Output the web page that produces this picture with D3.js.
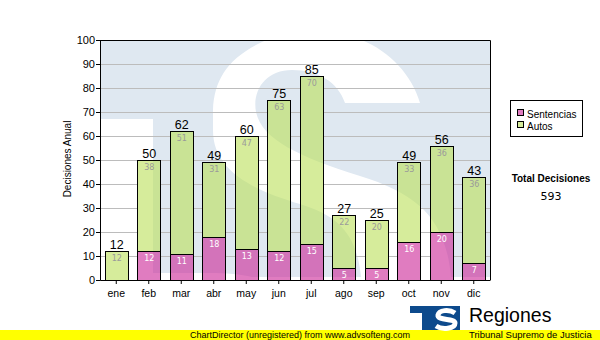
<!DOCTYPE html>
<html>
<head>
<meta charset="utf-8">
<script src="https://cdn.jsdelivr.net/npm/d3@7"></script>
<style>
  body { margin: 0; background: #fff; }
  svg { display: block; }
</style>
</head>
<body>
<svg id="chart" width="600" height="340"></svg>
<script>
// Monthly decisions, split by type
const months = ["ene", "feb", "mar", "abr", "may", "jun", "jul", "ago", "sep", "oct", "nov", "dic"];
const sentencias = [0, 12, 11, 18, 13, 12, 15, 5, 5, 16, 20, 7];
const autos = [12, 38, 51, 31, 47, 63, 70, 22, 20, 33, 36, 36];
const seriesNames = ["Sentencias", "Autos"];
const yTicks = [0, 10, 20, 30, 40, 50, 60, 70, 80, 90, 100];
const yTitle = "Decisiones Anual";
const totalTitle = "Total Decisiones";
const footerText = "ChartDirector (unregistered) from www.advsofteng.com";
const brandName = "Regiones";
const brandSub = "Tribunal Supremo de Justicia";

const svg = d3.select("#chart");
const W = 600, H = 340;
const plot = { left: 100, top: 40, right: 490, bottom: 280 };

const fills = { Sentencias: "rgba(203,37,150,0.6)", Autos: "rgba(187,223,88,0.6)" };
const swatch = { Sentencias: "#e07cc0", Autos: "#d6ec9b" };
const innerLabel = { Sentencias: "#ffffff", Autos: "#9a9a9a" };
const backdropBlue = "#dfe8f1";
const sansA = "'Liberation Sans', Arial, sans-serif";
const sansV = "'DejaVu Sans', Verdana, sans-serif";

const x = d3.scaleBand().domain(months)
  .range([plot.left, plot.right]).paddingInner(0.28).paddingOuter(0.14);
const y = d3.scaleLinear().domain([0, 100]).range([plot.bottom, plot.top]);

const rows = months.map((m, i) => ({ month: m, Sentencias: sentencias[i], Autos: autos[i] }));
const stacked = d3.stack().keys(seriesNames)(rows);
const totals = rows.map(r => r.Sentencias + r.Autos);

const snap = v => Math.round(v) + 0.5;

svg.append("rect").attr("width", W).attr("height", H).attr("fill", "#fff");

// clip paths: the plot box and the union of the stacked bars
const defs = svg.append("defs");
defs.append("clipPath").attr("id", "plotClip").append("rect")
  .attr("x", plot.left).attr("y", plot.top)
  .attr("width", plot.right - plot.left).attr("height", plot.bottom - plot.top);
defs.append("clipPath").attr("id", "barClip").selectAll("rect")
  .data(rows).join("rect")
  .attr("x", d => snap(x(d.month)))
  .attr("y", (d, i) => snap(y(totals[i])))
  .attr("width", Math.round(x.bandwidth()))
  .attr("height", (d, i) => Math.round(y(0)) - Math.round(y(totals[i])));

// faded "TS" emblem behind the plot
function drawBackdrop(g) {
  const L = plot.left, T = plot.top, R = plot.right, B = plot.bottom;
  g.append("rect").attr("x", L).attr("y", T).attr("width", R - L).attr("height", B - T).attr("fill", "#fff");
  g.append("path").attr("fill", backdropBlue)
    .attr("d", `M${L},${T}H${R}V${B - 3}H${L + 53}V${T + 79}H${L}Z`);
  g.append("path").attr("fill", "#fff").attr("d",
    "M420,103 L345,103 C338,82 318,70 292,70 C266,70 252,90 256,112" +
    " C262,140 300,157 360,176 C425,196 452,225 452,300 L362,300" +
    " C362,240 345,218 300,204 C250,189 213,170 213,130 L213,110" +
    " C214,80 228,58 262,42 C290,28 335,28 362,40 C390,52 412,75 420,103 Z");
  g.append("path").attr("fill", "#fff")
    .attr("d", "M150,273 L215,273 C250,274 270,278 280,300 L150,300 Z");
}

const plotG = svg.append("g").attr("clip-path", "url(#plotClip)");
drawBackdrop(plotG.append("g"));

// horizontal grid
plotG.append("g").selectAll("line")
  .data(yTicks.filter(v => v > 0 && v < 100)).join("line")
  .attr("x1", plot.left).attr("x2", plot.right)
  .attr("y1", d => snap(y(d))).attr("y2", d => snap(y(d)))
  .attr("stroke", "#bcbcbc").attr("stroke-width", 1);

// backdrop again inside the bars so the grid does not show through them
drawBackdrop(plotG.append("g").attr("clip-path", "url(#barClip)"));

// stacked bars
const layers = svg.append("g").selectAll("g").data(stacked).join("g");
layers.selectAll("rect")
  .data(s => s.filter(d => d[1] - d[0] > 0).map(d => ({ key: s.key, d })))
  .join("rect")
  .attr("x", o => snap(x(o.d.data.month)))
  .attr("y", o => snap(y(o.d[1])))
  .attr("width", Math.round(x.bandwidth()))
  .attr("height", o => Math.round(y(o.d[0])) - Math.round(y(o.d[1])))
  .attr("fill", o => fills[o.key])
  .attr("stroke", "#000").attr("stroke-width", 1);

// segment value labels
layers.selectAll("text")
  .data(s => s.filter(d => d[1] - d[0] > 0).map(d => ({ key: s.key, d })))
  .join("text")
  .attr("x", o => x(o.d.data.month) + x.bandwidth() / 2 + 0.5)
  .attr("y", o => Math.round(y(o.d[1])) + 10)
  .attr("text-anchor", "middle")
  .attr("font-family", sansV).attr("font-size", 8)
  .attr("fill", o => innerLabel[o.key])
  .text(o => o.d[1] - o.d[0]);

// totals above bars
svg.append("g").selectAll("text").data(rows).join("text")
  .attr("x", d => x(d.month) + x.bandwidth() / 2 + 0.5)
  .attr("y", (d, i) => Math.round(y(totals[i])) - 2)
  .attr("text-anchor", "middle")
  .attr("font-family", sansA).attr("font-size", 12.5).attr("fill", "#000")
  .text((d, i) => totals[i]);

// plot frame (top and right)
svg.append("path")
  .attr("d", `M${plot.left},${plot.top + 0.5}H${plot.right + 0.5}V${plot.bottom}`)
  .attr("fill", "none").attr("stroke", "#000");

// axes
const yAxis = svg.append("g").attr("transform", `translate(${plot.left},0)`)
  .call(d3.axisLeft(y).tickValues(yTicks).tickSize(4).tickPadding(1));
const xAxis = svg.append("g").attr("transform", `translate(0,${plot.bottom})`)
  .call(d3.axisBottom(x).tickSize(4).tickSizeOuter(0));
[yAxis, xAxis].forEach(a => {
  a.attr("font-family", null).attr("font-size", null);
  a.selectAll("path,line").attr("stroke", "#000");
});
yAxis.selectAll("text").attr("font-family", sansA).attr("font-size", 11).attr("fill", "#000");
xAxis.selectAll("text").attr("font-family", sansA).attr("font-size", 10.5).attr("fill", "#000")
  .attr("y", 17).attr("dy", 0);

svg.append("text")
  .attr("transform", "translate(70.5,159) rotate(-90)")
  .attr("text-anchor", "middle")
  .attr("font-family", sansA).attr("font-size", 10).attr("fill", "#000")
  .text(yTitle);

// legend
const legend = svg.append("g");
legend.append("rect").attr("x", 510.5).attr("y", 100.5).attr("width", 72).attr("height", 36)
  .attr("fill", "#fff").attr("stroke", "#000");
const items = legend.selectAll("g.item").data(seriesNames).join("g").attr("class", "item")
  .attr("transform", (d, i) => `translate(0,${i * 12})`);
items.append("rect").attr("x", 517.5).attr("y", 109.5).attr("width", 6).attr("height", 6)
  .attr("fill", d => swatch[d]).attr("stroke", "#000");
items.append("text").attr("x", 527).attr("y", 117.5)
  .attr("font-family", sansA).attr("font-size", 10).attr("fill", "#000")
  .text(d => d);

// grand total
const grandTotal = d3.sum(totals);
svg.append("text").attr("x", 551).attr("y", 181.5).attr("text-anchor", "middle")
  .attr("font-family", sansA).attr("font-size", 10).attr("font-weight", "bold").attr("fill", "#000")
  .text(totalTitle);
svg.append("text").attr("x", 551).attr("y", 199.5).attr("text-anchor", "middle")
  .attr("font-family", sansV).attr("font-size", 11).attr("fill", "#000")
  .text(grandTotal);

// footer strip
svg.append("rect").attr("x", 0).attr("y", 330).attr("width", W).attr("height", 10).attr("fill", "#ffff00");
svg.append("text").attr("x", 300).attr("y", 337.5).attr("text-anchor", "middle")
  .attr("font-family", sansA).attr("font-size", 9).attr("fill", "#000")
  .text(footerText);

// brand mark
const brand = svg.append("g");
brand.append("path").attr("fill", "#0d4a8c")
  .attr("d", "M410,306H460V330H422V313H410Z");
brand.append("path").attr("fill", "none").attr("stroke", "#fff").attr("stroke-width", 5)
  .attr("d", "M455,313 C449,309 439,310 438,315 C437,321 455,318 455,323 C455,329 442,330 436,326");
brand.append("text").attr("x", 469).attr("y", 322)
  .attr("font-family", sansA).attr("font-size", 19.5).attr("fill", "#000")
  .text(brandName);
brand.append("text").attr("x", 469).attr("y", 337.5)
  .attr("font-family", sansA).attr("font-size", 9.5).attr("fill", "#000")
  .text(brandSub);
</script>
</body>
</html>
